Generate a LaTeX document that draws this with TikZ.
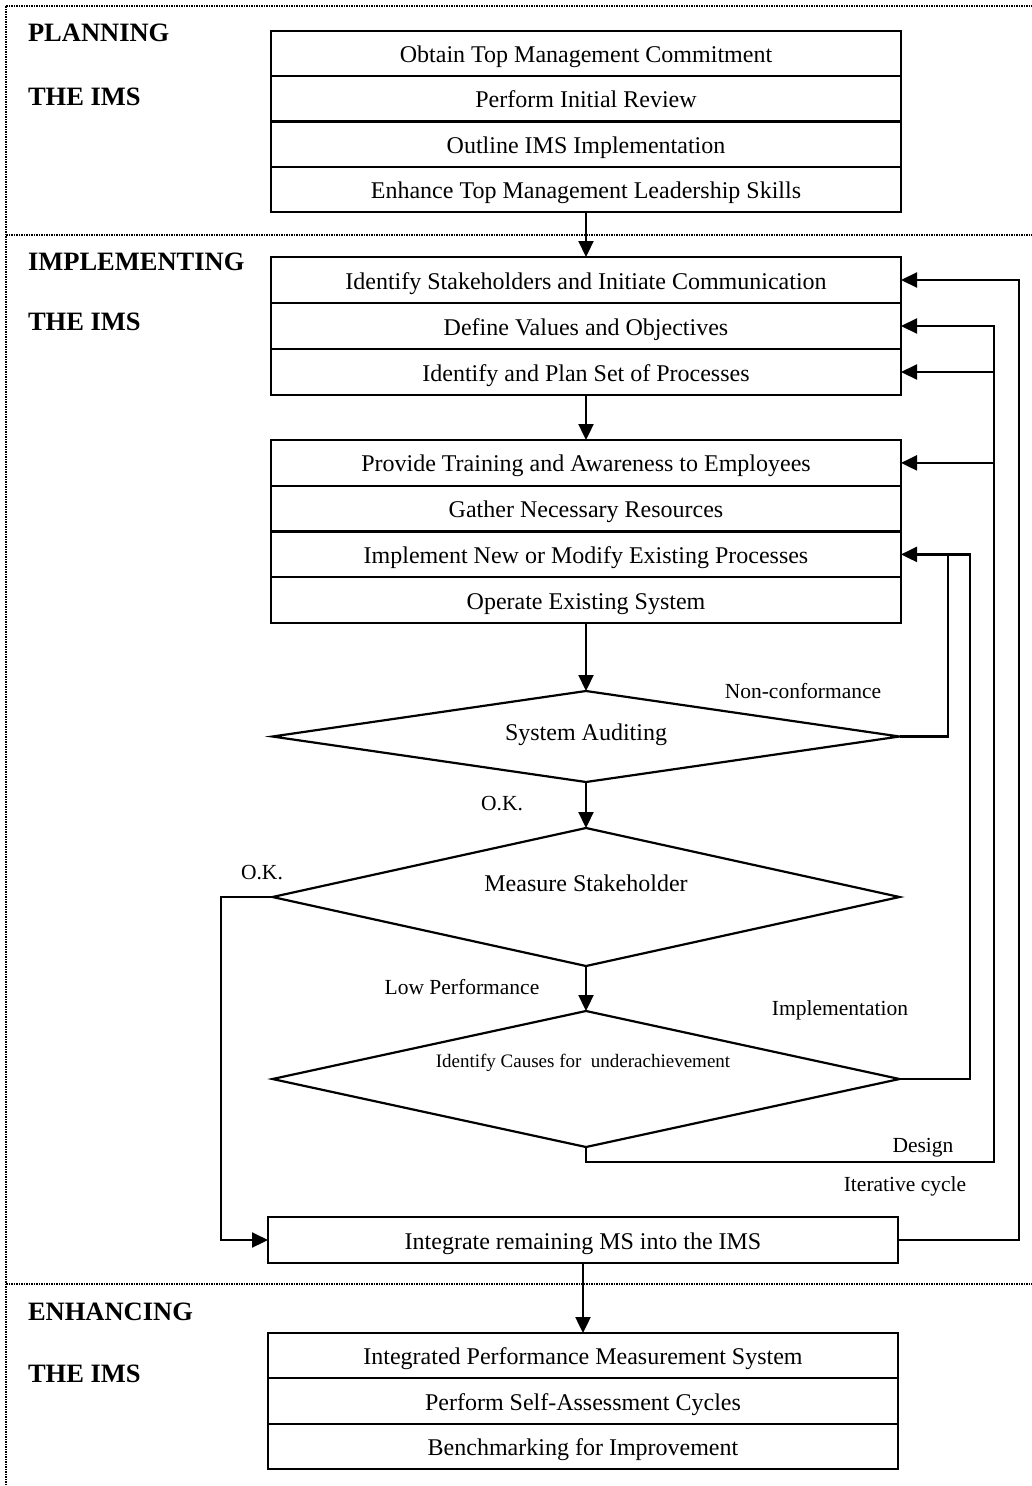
\documentclass[tikz,border=0pt]{standalone}
\usepackage{fontspec}
\setmainfont{Liberation Serif}
\usetikzlibrary{shapes.geometric,arrows.meta}

\begin{document}
\begin{tikzpicture}[x=1pt,y=-1pt,
  every node/.style={inner sep=0pt, outer sep=0pt},
  row/.style={draw, line width=2.2pt, minimum width=630pt, text height=21pt, text depth=3pt,
              font=\fontsize{24}{26}\selectfont},
  dec/.style={draw, diamond, line width=2.2pt, minimum width=627pt},
  dectext/.style={font=\fontsize{24}{26}\selectfont},
  hdr/.style={anchor=west, font=\fontsize{26.5}{28}\selectfont\bfseries},
  lbl/.style={font=\fontsize{21.5}{23}\selectfont},
  conn/.style={line width=2.2pt},
  arr/.style={conn, -{Triangle[length=16pt,width=15pt]}},
  sep/.style={line width=1.6pt, dash pattern=on 1.5pt off 1pt},
]
\useasboundingbox (0,0) rectangle (1032,1486);

% phase separators
\draw[sep] (6,6) -- (1032,6);
\draw[sep] (6,235) -- (1032,235);
\draw[sep] (6,1284) -- (1032,1284);
\draw[sep] (6,6) -- (6,1486);

% phase headings
\node[hdr] (hPlan)  at (28,33)   {PLANNING};
\node[hdr] (hPlanB) at (28,97)   {THE IMS};
\node[hdr] (hImpl)  at (28,262)  {IMPLEMENTING};
\node[hdr] (hImplB) at (28,322)  {THE IMS};
\node[hdr] (hEnh)   at (28,1312) {ENHANCING};
\node[hdr] (hEnhB)  at (28,1374) {THE IMS};

% planning block
\node[row, minimum height=45.3pt] (g1a) at (586,53.6)  {Obtain Top Management Commitment};
\node[row, minimum height=45.3pt] (g1b) at (586,98.9)  {Perform Initial Review};
\node[row, minimum height=45.3pt] (g1c) at (586,144.2) {Outline IMS Implementation};
\node[row, minimum height=45.3pt] (g1d) at (586,189.5) {Enhance Top Management Leadership Skills};

% implementing blocks
\node[row, minimum height=46pt] (g2a) at (586,280) {Identify Stakeholders and Initiate Communication};
\node[row, minimum height=46pt] (g2b) at (586,326) {Define Values and Objectives};
\node[row, minimum height=46pt] (g2c) at (586,372) {Identify and Plan Set of Processes};

\node[row, minimum height=45.75pt] (g3a) at (586,462.9) {Provide Training and Awareness to Employees};
\node[row, minimum height=45.75pt] (g3b) at (586,508.6) {Gather Necessary Resources};
\node[row, minimum height=45.75pt] (g3c) at (586,554.4) {Implement New or Modify Existing Processes};
\node[row, minimum height=45.75pt] (g3d) at (586,600.1) {Operate Existing System};

% decisions
\node[dec, minimum height=91pt] (sa) at (586,736.5) {};
\node[dectext] (saT) at (586,735) {System Auditing};
\node[dec, minimum height=138pt] (ms) at (586,897) {};
\node[dectext] (msT) at (586,883) {Measure Stakeholder};
\node[dec, minimum height=136pt] (ic) at (586,1079) {};
\node[font=\fontsize{19}{21}\selectfont] (icT) at (583,1063) {Identify Causes for\ \ underachievement};

\node[row, minimum height=46pt] (integ) at (583,1240) {Integrate remaining MS into the IMS};

% enhancing block
\node[row, minimum height=45.3pt] (g4a) at (583,1355.7) {Integrated Performance Measurement System};
\node[row, minimum height=45.3pt] (g4b) at (583,1401)   {Perform Self-Assessment Cycles};
\node[row, minimum height=45.3pt] (g4c) at (583,1446.3) {Benchmarking for Improvement};

% main flow
\draw[arr] (g1d.south) -- (g2a.north);
\draw[arr] (g2c.south) -- (g3a.north);
\draw[arr] (g3d.south) -- (sa.north);
\draw[arr] (sa.south) -- (ms.north);
\draw[arr] (ms.south) -- (ic.north);
\draw[arr] (integ.south) -- (g4a.north);

% return lines on the right
\coordinate (xN) at (948,0);
\coordinate (xI) at (970,0);
\coordinate (xD) at (994,0);
\coordinate (xO) at (1019,0);
\coordinate (dLow) at (586,1162);

\draw[conn] (sa.east) -- (xN |- sa.east) -- (xN |- g3c.east);
\draw[arr] (ic.east) -- (xI |- ic.east) -- (xI |- g3c.east) -- (g3c.east);
\draw[arr] (ic.south) -- (dLow) -- (xD |- dLow) -- (xD |- g2b.east) -- (g2b.east);
\draw[arr] (xD |- g2c.east) -- (g2c.east);
\draw[arr] (xD |- g3a.east) -- (g3a.east);
\draw[arr] (integ.east) -- (xO |- integ.east) -- (xO |- g2a.east) -- (g2a.east);

% O.K. bypass on the left
\coordinate (xL) at (221,0);
\draw[arr] (ms.west) -- (xL |- ms.west) -- (xL |- integ.west) -- (integ.west);

% connector labels
\node[lbl] (lNon)  at (803,691)  {Non-conformance};
\node[lbl] (lOk1)  at (502,804)  {O.K.};
\node[lbl] (lOk2)  at (262,873)  {O.K.};
\node[lbl] (lLow)  at (462,987)  {Low Performance};
\node[lbl] (lImp)  at (840,1010) {Implementation};
\node[lbl] (lDes)  at (923,1148) {Design};
\node[lbl] (lIter) at (905,1186) {Iterative cycle};
\end{tikzpicture}
\end{document}
